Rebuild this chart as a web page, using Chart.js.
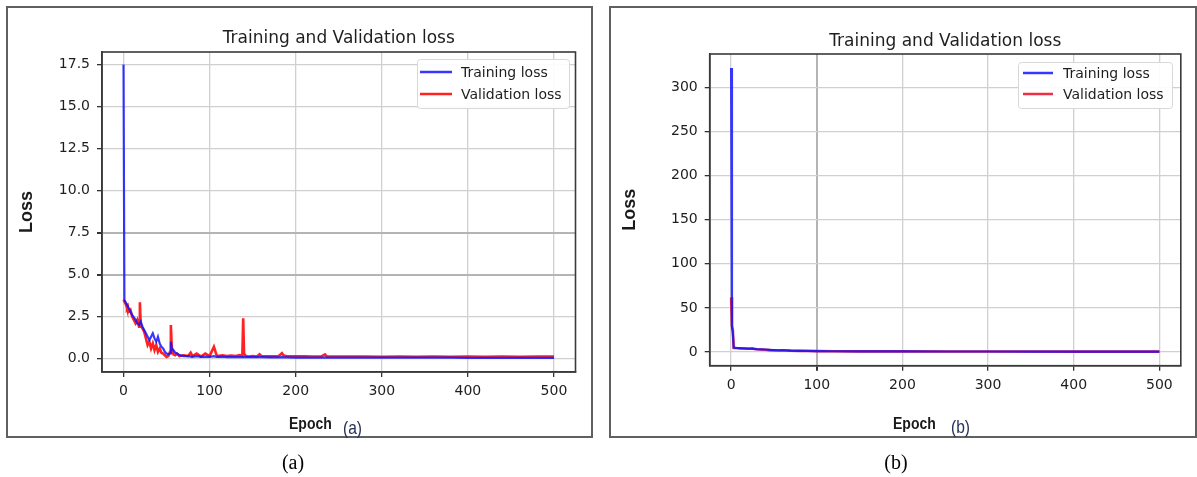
<!DOCTYPE html>
<html lang="en">
<head>
<meta charset="UTF-8">
<title>Training and Validation loss</title>
<script src="https://cdn.jsdelivr.net/npm/chart.js"></script>
<style>
  body { margin: 0; width: 1197px; height: 477px; background: #fff; position: relative; overflow: hidden; }
  .panel { position: absolute; border: 2px solid #606060; box-sizing: border-box; }
  canvas { position: absolute; }
  .xlabel { position: absolute; font-family: "Liberation Sans", Arial, sans-serif; font-weight: bold; font-size: 14px; line-height: 16px; color: #1a1a1a; transform: scaleY(1.2); }
  .sub { position: absolute; font-family: "Liberation Sans", Arial, sans-serif; font-size: 19px; line-height: 22px; color: #27305a; transform: scaleX(0.82); transform-origin: left center; }
  .caption { position: absolute; width: 60px; text-align: center; font-family: "Liberation Serif", "Times New Roman", serif; font-size: 20px; line-height: 24px; color: #000; }
</style>
</head>
<body>

<div class="panel" style="left:6px; top:6px; width:587px; height:432px;"></div>
<div class="panel" style="left:609px; top:6px; width:588px; height:432px;"></div>

<canvas id="lossA" width="583" height="428" style="left:8px; top:8px;"></canvas>
<canvas id="lossB" width="585" height="428" style="left:611px; top:8px;"></canvas>

<div class="xlabel" style="left:289px; top:415px;">Epoch</div>
<div class="sub" style="left:343px; top:417px;">(a)</div>
<div class="xlabel" style="left:893px; top:415px;">Epoch</div>
<div class="sub" style="left:951px; top:416px;">(b)</div>

<div class="caption" style="left:263px; top:450px;">(a)</div>
<div class="caption" style="left:866px; top:450px;">(b)</div>

<script>
// (a)
const epochsA = [0,1,2,3,4,5,6,8,10,12,14,16,18,19,20,22,24,26,28,30,32,34,36,38,40,42,44,46,48,50,
  52,54,55,56,58,60,62,65,70,75,78,80,85,90,95,100,105,106,108,110,115,120,125,130,135,138,139,140,142,145,
  150,155,158,160,170,180,184,186,190,200,210,220,230,234,236,240,260,280,300,320,340,360,380,400,420,440,460,480,500];
const trainA = [17.5,3.5,3.4,3.3,3.2,3.1,3.0,2.8,2.6,2.45,2.3,2.1,2.0,2.0,2.2,1.9,1.7,1.5,1.3,1.1,1.3,1.5,1.2,1.0,1.3,0.9,0.7,0.6,0.4,0.3,
  0.25,0.3,1.0,0.6,0.5,0.35,0.3,0.2,0.15,0.15,0.12,0.1,0.14,0.1,0.12,0.1,0.14,0.12,0.1,0.1,0.11,0.09,0.1,0.09,0.1,0.09,0.1,0.09,0.09,0.08,
  0.08,0.08,0.1,0.08,0.07,0.07,0.08,0.07,0.07,0.06,0.06,0.06,0.06,0.06,0.06,0.06,0.05,0.05,0.05,0.05,0.05,0.05,0.05,0.04,0.04,0.04,0.04,0.04,0.04];
const valA = [3.5,3.4,3.3,3.2,3.0,3.1,2.8,2.9,2.5,2.3,2.1,2.3,1.9,3.35,2.0,1.8,1.6,1.2,0.8,1.0,0.6,0.9,0.5,0.8,0.4,0.6,0.35,0.3,0.2,0.1,
  0.15,0.4,2.0,0.7,0.25,0.2,0.3,0.15,0.2,0.15,0.35,0.15,0.3,0.12,0.3,0.15,0.7,0.55,0.2,0.15,0.2,0.15,0.18,0.15,0.2,0.15,2.4,0.3,0.15,0.12,
  0.15,0.12,0.25,0.15,0.13,0.14,0.32,0.18,0.14,0.13,0.13,0.12,0.13,0.25,0.13,0.12,0.12,0.12,0.11,0.12,0.11,0.12,0.11,0.12,0.11,0.12,0.11,0.12,0.12];

// (b)
const epochsB = [0,1,2,3,5,8,10,15,20,25,26,30,35,40,45,50,55,60,70,80,90,100,120,150,200,250,300,350,400,450,500];
const trainB = [322,28,22,5,4.8,4.6,4.4,4.1,3.8,3.5,3.6,3.2,3.0,2.9,2.5,2.2,2.0,2.3,1.6,1.4,1.2,1.1,0.9,0.8,0.7,0.6,0.6,0.55,0.5,0.5,0.5];
const valB = [62,30,25,4.6,4.5,4.3,4.2,4.0,3.7,4.2,3.8,3.1,2.8,2.6,2.2,2.0,1.8,1.7,1.5,1.3,1.15,1.05,0.9,0.8,0.7,0.6,0.6,0.55,0.5,0.5,0.5];

const xTicks = [0, 100, 200, 300, 400, 500];

Chart.defaults.font.family = '"DejaVu Sans", sans-serif';
Chart.defaults.color = '#1e1e1e';

// matplotlib-style box around the axes
const framePlugin = {
  id: 'frame',
  afterDraw(chart) {
    const { ctx, chartArea: a } = chart;
    ctx.save();
    ctx.strokeStyle = '#3a3a3a';
    ctx.lineWidth = 1.6;
    ctx.strokeRect(a.left, a.top, a.right - a.left, a.bottom - a.top);
    ctx.restore();
  }
};

// legend drawn inside the plot, upper right
const boxLegend = {
  id: 'boxLegend',
  afterDraw(chart, args, o) {
    const { ctx, chartArea: a } = chart;
    const x = a.right - o.right - o.width;
    const y = a.top + o.top;
    ctx.save();
    ctx.fillStyle = 'rgba(255,255,255,0.9)';
    ctx.strokeStyle = '#d8d8d8';
    ctx.lineWidth = 1;
    ctx.beginPath();
    ctx.roundRect(x + 0.5, y + 0.5, o.width, o.height, 3);
    ctx.fill();
    ctx.stroke();
    ctx.font = '14px "DejaVu Sans"';
    ctx.textBaseline = 'middle';
    chart.data.datasets.forEach((ds, i) => {
      const ly = y + o.rowTop + i * o.rowGap;
      ctx.strokeStyle = ds.borderColor;
      ctx.lineWidth = 2.5;
      ctx.beginPath();
      ctx.moveTo(x + o.line0, ly);
      ctx.lineTo(x + o.line1, ly);
      ctx.stroke();
      ctx.fillStyle = '#1e1e1e';
      ctx.fillText(ds.label, x + o.text, ly + 1);
    });
    ctx.restore();
  }
};

function makeChart(id, epochs, train, val, s) {
  const pts = arr => epochs.map((e, i) => ({ x: e, y: arr[i] }));
  return new Chart(document.getElementById(id), {
    type: 'line',
    data: {
      datasets: [
        { label: 'Training loss', data: pts(train), borderColor: 'rgba(20,20,255,0.85)', borderWidth: 2.2, pointRadius: 0, tension: 0 },
        { label: 'Validation loss', data: pts(val), borderColor: s.valColor, borderWidth: 2.6, pointRadius: 0, tension: 0 }
      ]
    },
    options: {
      responsive: false,
      animation: false,
      devicePixelRatio: 1,
      layout: { padding: { left: 0, top: 0, right: s.padRight, bottom: 0 } },
      scales: {
        x: {
          type: 'linear', min: -25, max: 525,
          afterBuildTicks: sc => { sc.ticks = xTicks.map(v => ({ value: v })); },
          ticks: { font: { size: 14 }, padding: 6, maxRotation: 0 },
          grid: {
            color: c => (c.tick && s.strongX.includes(c.tick.value)) ? '#b4b4b4' : '#d0d0d0',
            lineWidth: c => (c.tick && s.strongX.includes(c.tick.value)) ? 2 : 1.3,
            tickColor: '#333', tickLength: 5
          },
          border: { color: '#3a3a3a', width: 1.6 },
          afterFit: sc => { sc.height = s.xHeight; }
        },
        y: {
          type: 'linear', min: s.yMin, max: s.yMax,
          ticks: { stepSize: s.yStep, includeBounds: false, font: { size: 14 }, padding: 7, callback: s.yFmt },
          grid: {
            color: c => (c.tick && s.strongY.includes(c.tick.value)) ? '#b4b4b4' : '#d0d0d0',
            lineWidth: c => (c.tick && s.strongY.includes(c.tick.value)) ? 2 : 1.3,
            tickColor: '#333', tickLength: 5
          },
          border: { color: '#3a3a3a', width: 1.6 },
          title: {
            display: true, text: 'Loss', color: '#1a1a1a',
            font: { family: '"Liberation Sans", Arial, sans-serif', size: 18, weight: 'bold', lineHeight: 1.2 },
            padding: { top: 8.7, bottom: 0 }
          },
          afterFit: sc => { sc.width = s.yWidth; }
        }
      },
      plugins: {
        legend: { display: false },
        tooltip: { enabled: false },
        title: {
          display: true, fullSize: false,
          text: 'Training and Validation loss', color: '#1e1e1e',
          font: { size: 17, weight: 'normal', lineHeight: 1.2 },
          padding: { top: s.titleTop, bottom: s.titleBottom }
        },
        boxLegend: s.legend
      }
    },
    plugins: [framePlugin, boxLegend]
  });
}

makeChart('lossA', epochsA, trainA, valA, {
  padRight: 15.5, xHeight: 64, yWidth: 94,
  titleTop: 20.3, titleBottom: 3.3,
  yMin: -0.8, yMax: 18.25, yStep: 2.5, yFmt: v => v.toFixed(1),
  strongX: [], strongY: [5, 7.5],
  valColor: 'rgba(255,10,10,0.9)',
  legend: { right: 6.5, top: 7, width: 152, height: 49, rowTop: 13, rowGap: 22, line0: 3, line1: 35, text: 44 }
});

makeChart('lossB', epochsB, trainB, valB, {
  padRight: 15.2, xHeight: 70.3, yWidth: 98.7,
  titleTop: 23.1, titleBottom: 2.5,
  yMin: -15.5, yMax: 338, yStep: 50, yFmt: v => String(v),
  strongX: [100], strongY: [],
  valColor: 'rgba(235,10,40,0.85)',
  legend: { right: 8.8, top: 8, width: 154, height: 46, rowTop: 11, rowGap: 21, line0: 5, line1: 35, text: 45 }
});
</script>
</body>
</html>
